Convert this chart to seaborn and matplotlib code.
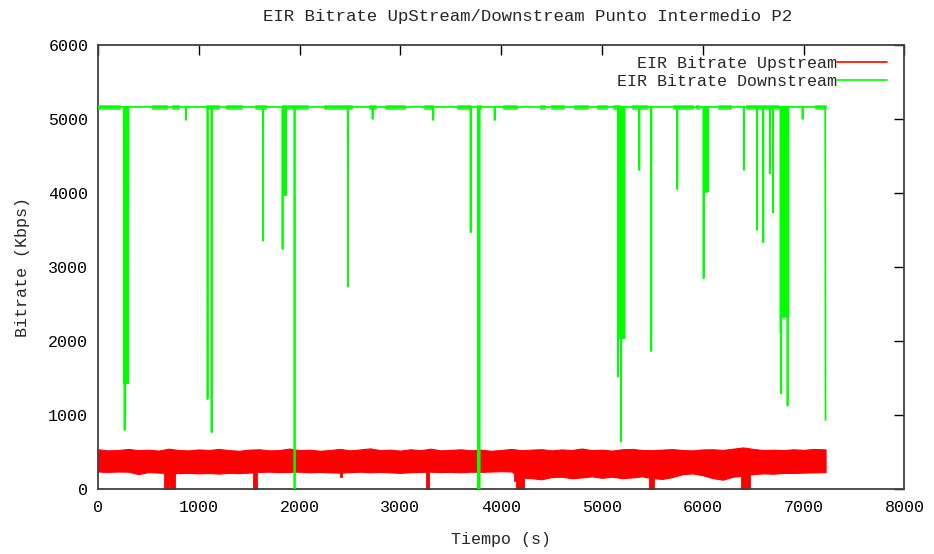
import matplotlib
matplotlib.use("Agg")
import matplotlib.pyplot as plt
from matplotlib.lines import Line2D
import numpy as np
import pandas as pd
import seaborn as sns

# ---- Upstream bitrate (Kbps): envelope of the noisy band, every 100 s ----
band_t = [*range(0, 7200, 100), 7218]
up_high = [540, 525, 530, 545, 528, 535, 522, 548, 530, 525,
           538, 530, 545, 528, 520, 535, 540, 525, 530, 550,
           528, 535, 520, 530, 545, 525, 538, 552, 528, 535,
           522, 540, 528, 548, 525, 532, 540, 526, 535, 520,
           530, 545, 528, 535, 542, 525, 538, 530, 550, 528,
           535, 522, 540, 545, 530, 528, 536, 542, 530, 525,
           538, 540, 532, 548, 565, 545, 530, 535, 528, 540,
           532, 545, 538]
up_low = [240, 235, 240, 238, 205, 232, 225, 220, 218, 222,
          215, 220, 212, 222, 218, 225, 235, 238, 232, 236,
          238, 230, 235, 228, 225, 232, 238, 230, 235, 228,
          222, 230, 235, 238, 232, 236, 230, 238, 235, 240,
          245, 240, 160, 150, 135, 165, 170, 150, 160, 175,
          155, 170, 150, 160, 175, 150, 140, 165, 205, 215,
          190, 150, 130, 170, 185, 205, 215, 210, 222, 220,
          225, 228, 232]

# Short upstream drops: start (s), end (s), lowest value (Kbps)
drop_start = [658, 700, 717, 1534, 2397, 3257, 4130, 4145, 5462, 6379]
drop_end = [700, 717, 760, 1577, 2421, 3283, 4145, 4222, 5519, 6465]
drop_floor = [0, 60, 0, 0, 170, 0, 110, 0, 0, 0]

# ---- Downstream bitrate (Kbps): steady level with sharp drops ----
down_level = 5160
down_drop_t = [258, 264, 270, 278, 286, 294, 300,
               873, 1087, 1127, 1637,
               1831, 1840, 1848, 1856, 1864,
               1950, 2480, 2724, 3326, 3697,
               3772, 3778, 3784, 3935,
               5160, 5168, 5176, 5184, 5190, 5198, 5206, 5214, 5222,
               5370, 5489, 5747,
               6008, 6016, 6024, 6032, 6040, 6048,
               6409, 6538, 6600, 6667, 6696,
               6772, 6778, 6786, 6794, 6802, 6810, 6818, 6826, 6834, 6841, 6848,
               6990]
down_drop_v = [1430, 800, 1000, 1430, 1430, 1430, 1430,
               4985, 1218, 769, 3355,
               3243, 3970, 3970, 3970, 3970,
               0, 2734, 4997, 4983, 3468,
               0, 2311, 0, 4983,
               1520, 2040, 2040, 2040, 642, 2040, 2040, 2040, 2040,
               4309, 1866, 4052,
               2847, 4016, 4016, 4016, 4016, 4016,
               4309, 3499, 3333, 4264, 3738,
               2105, 1296, 2329, 2329, 2329, 2329, 2329, 2329, 2329, 1128, 2329,
               4997]
down_last_t = 7218
down_last_v = 935

# Stretches where the downstream level jitters slightly
jitter_start = [0, 536, 730, 1070, 1270, 1560, 1830, 2240, 2690, 2850,
                3230, 3560, 3760, 4020, 4380, 4490, 4720, 4950, 5110, 5300,
                5700, 5930, 6150, 6430, 7110]
jitter_end = [220, 684, 800, 1200, 1430, 1670, 2080, 2520, 2760, 3050,
              3320, 3700, 3800, 4160, 4430, 4620, 4860, 5050, 5180, 5450,
              5900, 5960, 6280, 6760, 7218]
jitter_low = 5133
jitter_high = 5190

x_ticks = [0, 1000, 2000, 3000, 4000, 5000, 6000, 7000, 8000]
y_ticks = [0, 1000, 2000, 3000, 4000, 5000, 6000]

RED = "#ff0000"
GREEN = "#00ff00"

sns.set_style("white")
plt.rcParams["font.family"] = ["Liberation Mono", "DejaVu Sans Mono"]
plt.rcParams["font.size"] = 12

# Downstream series as a continuous trace
ts, vs = [0], [down_level]
for t, v in zip(down_drop_t, down_drop_v):
    ts += [t - 2, t, t + 2]
    vs += [down_level, v, down_level]
ts += [down_last_t - 4, down_last_t]
vs += [down_level, down_last_v]
down_df = pd.DataFrame({"t": ts, "v": vs})

W, H = 934, 554
fig = plt.figure(figsize=(W / 100, H / 100), dpi=100)
x0, x1, y0, y1 = 98, 904.4, 489.3, 44.7
ax = fig.add_axes([x0 / W, 1 - y0 / H, (x1 - x0) / W, (y0 - y1) / H])

# Upstream band
ax.fill_between(band_t, up_low, up_high, color=RED, lw=0.8, zorder=2)
for s, e, f in zip(drop_start, drop_end, drop_floor):
    ax.fill_between([s, e], [f, f], [300, 300], color=RED, lw=0.6, zorder=2)

# Downstream trace
for s, e in zip(jitter_start, jitter_end):
    ax.fill_between([s, e], [jitter_low] * 2, [jitter_high] * 2,
                    color=GREEN, lw=0.4, alpha=0.85, zorder=3)
sns.lineplot(data=down_df, x="t", y="v", sort=False, estimator=None,
             color=GREEN, lw=1.25, ax=ax, zorder=4)

ax.set_xlim(0, 8000)
ax.set_ylim(0, 6000)
ax.set_xticks(x_ticks)
ax.set_yticks(y_ticks)
ax.set_xticklabels([str(v) for v in x_ticks])
ax.set_yticklabels([str(v) for v in y_ticks])
ax.tick_params(direction="in", length=7, width=1, top=True, right=True,
               colors="black", labelsize=12)
ax.tick_params(axis="x", pad=8)
ax.tick_params(axis="y", pad=7)
for sp in ax.spines.values():
    sp.set_color("#404040")
    sp.set_linewidth(1.3)
    sp.set_visible(True)

ax.set_xlabel("Tiempo (s)", fontsize=12, labelpad=12)
ax.set_ylabel("Bitrate (Kbps)", fontsize=12, labelpad=13)

fig.text(528 / W, 1 - 17 / H, "EIR Bitrate UpStream/Downstream Punto Intermedio P2",
         ha="center", va="center", fontsize=12.5)

handles = [Line2D([], [], color=RED, lw=1.2), Line2D([], [], color=GREEN, lw=1.2)]
ax.legend(handles, ["EIR Bitrate Upstream", "EIR Bitrate Downstream"],
          loc="upper right", bbox_to_anchor=((887 - x0) / (x1 - x0), (y0 - 56) / (y0 - y1)),
          frameon=False, markerfirst=False, handlelength=3.0, handletextpad=0.0,
          borderpad=0, borderaxespad=0, labelspacing=0.2, fontsize=12)

fig.savefig("out.png", dpi=100)
